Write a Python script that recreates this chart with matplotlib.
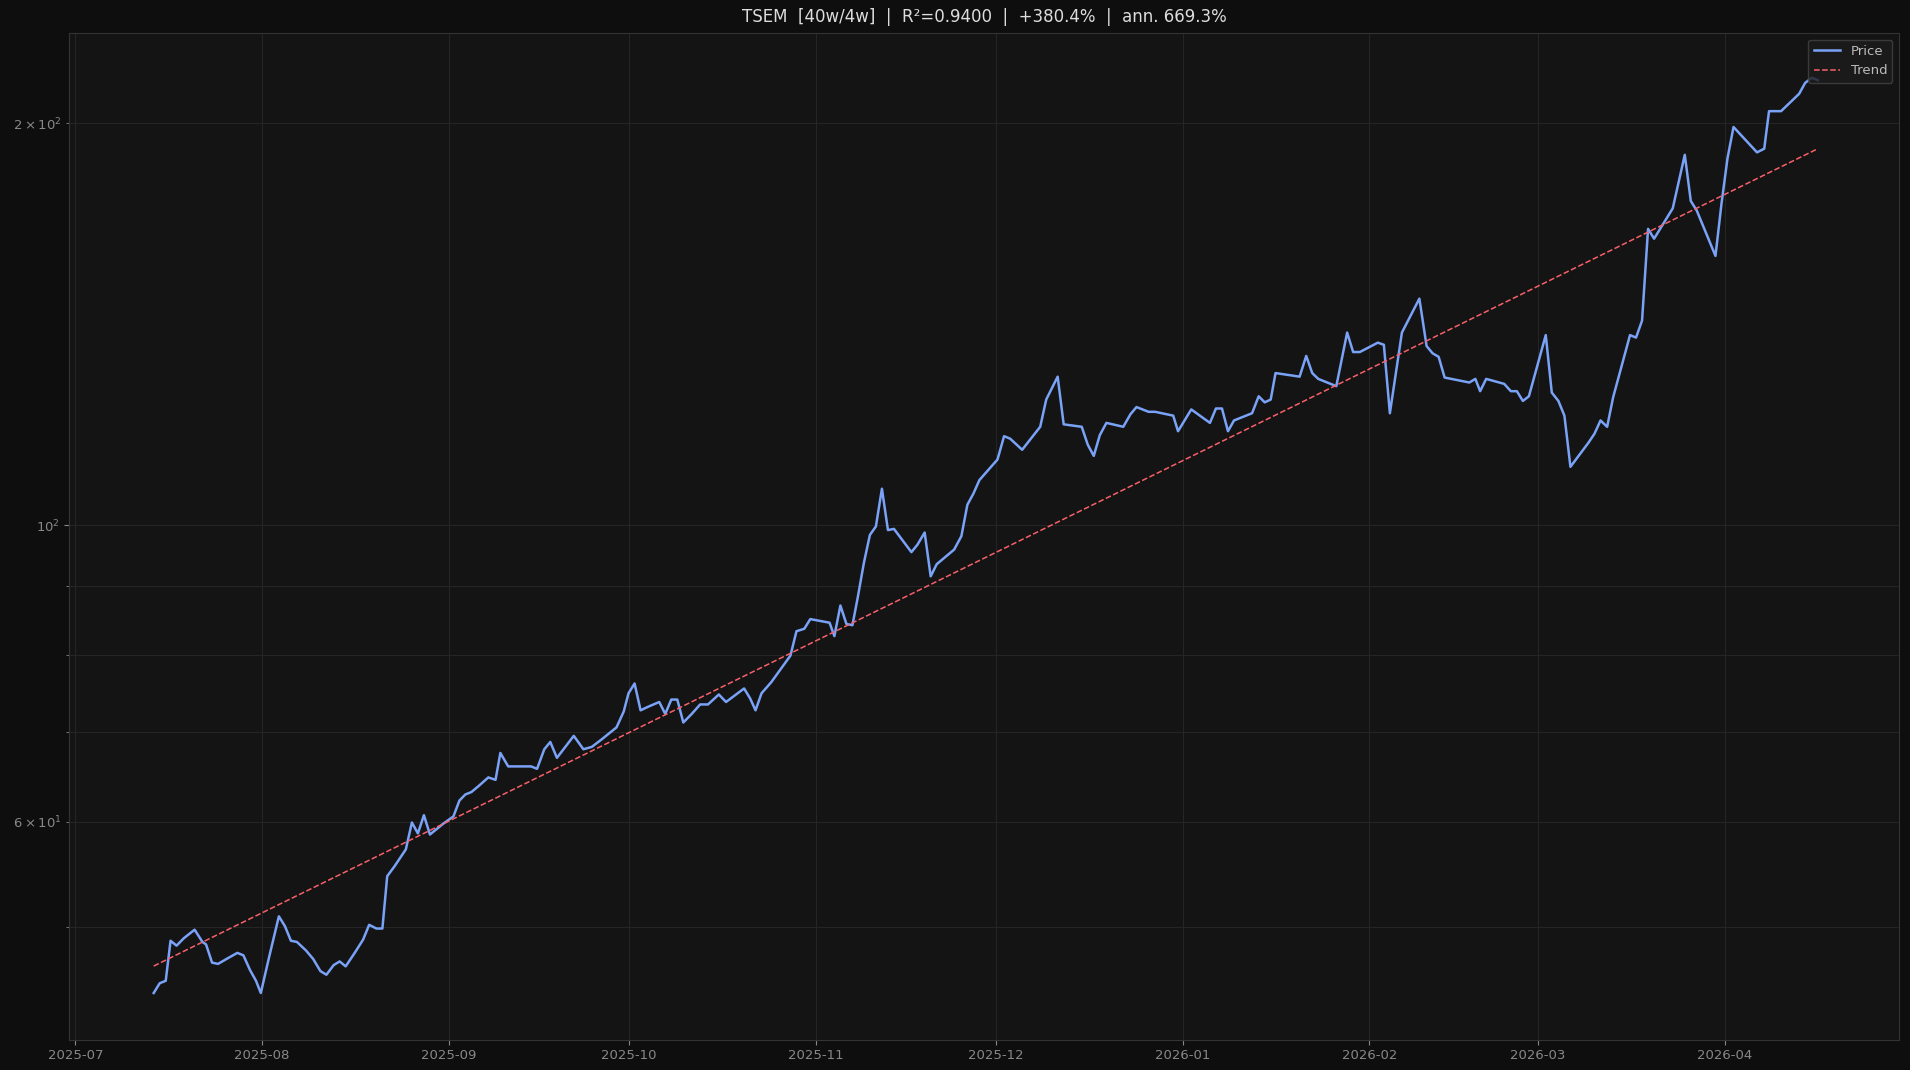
import numpy as np
import pandas as pd
import matplotlib
matplotlib.use("Agg")
import matplotlib.pyplot as plt
import matplotlib.dates as mdates

base_date = "2025-07-01"
# day offsets from base_date
days = [13,14,15,15.8,16.8,18,19.8,21.1,21.7,22.7,23.7,25.1,26.9,27.9,29,30,30.8,32.2,33.8,34.8,35.8,36.8,
38.3,39.5,40.7,41.7,42.9,43.9,44.9,46.4,47.8,48.8,50,51,51.8,53,54.9,55.9,56.9,57.9,58.9,59.9,61.1,62.8,
63.8,64.8,65.8,67,68.6,69.8,70.6,71.9,72.7,75.7,76.7,77.9,78.9,80,82.8,84.4,85.8,87.4,88.9,89.9,91.1,91.9,
92.9,93.9,95.1,97,98,99,100,101,102.4,103.8,105.1,106.9,108.1,111.1,112.1,113,114,115.6,117.2,118.8,119.8,
121.1,122.1,125.3,126.1,127.1,128.1,129.1,130,131,132,133,134,135,136,138.9,139.9,141.1,142.1,143.1,146,
147.2,148.2,149.2,150.2,153.2,154.3,155.3,157.3,160.3,161.3,163.2,164.2,167.2,168.2,169.2,170.2,171.3,
174.1,175.3,176.3,178.3,179.4,182.4,183.2,185.4,188.5,189.5,190.5,191.5,192.5,195.5,196.6,197.6,198.6,
199.4,203.4,204.5,205.5,206.5,209.5,211.3,212.3,213.4,216.4,217.4,218.4,220.4,223.3,224.5,225.5,226.5,
227.5,231.6,232.6,233.4,234.4,237.4,238.5,239.5,240.5,241.5,244.3,245.3,246.4,247.4,248.4,251.4,252.4,
253.4,254.5,255.5,258.3,259.3,260.3,261.3,262.3,265.4,267.4,268.4,269.4,272.5,273.5,274.5,275.5,279.4,
280.6,281.4,283.4,286.4,287.4,288.5,289.5]
prices = [44.64,45.40,45.59,48.85,48.44,49.06,49.79,48.75,48.54,47.04,46.94,47.34,47.84,47.64,46.45,45.59,44.64,
47.54,50.95,50.10,48.85,48.75,48.04,47.34,46.36,46.07,46.84,47.14,46.74,47.84,48.95,50.21,49.89,49.89,
54.60,55.53,57.19,59.90,58.78,60.66,58.67,59.17,59.77,60.53,62.21,62.87,63.13,63.79,64.74,64.47,67.53,
65.98,65.98,65.98,65.71,67.96,68.82,66.96,69.55,67.96,68.24,69.11,69.99,70.57,72.53,74.85,76.12,72.68,
73.11,73.73,72.23,74.04,74.04,71.17,72.23,73.42,73.42,74.69,73.73,75.47,74.19,72.68,74.85,76.28,78.06,
79.87,83.30,83.65,85.06,84.53,82.60,87.07,84.35,84.17,88.38,93.70,98.34,99.79,106.5,99.17,99.37,95.47,
96.70,98.75,91.57,93.50,95.89,98.13,103.6,105.6,108.1,112.0,116.6,116.1,113.9,118.5,124.2,129.2,119.0,
118.5,114.9,112.7,116.8,119.3,118.5,121.1,122.6,121.6,121.6,120.8,117.6,122.1,119.3,122.3,122.3,117.6,
119.8,121.3,124.9,123.6,124.2,130.0,129.2,133.9,130.0,128.7,127.1,139.4,134.8,134.8,137.0,136.5,121.3,
139.4,147.8,136.2,134.5,133.7,129.0,127.9,128.7,126.0,128.7,127.6,126.0,126.0,123.9,124.9,138.8,125.7,
123.9,120.8,110.6,115.3,117.1,119.8,118.5,124.7,138.8,138.2,142.3,166.7,163.9,172.7,189.4,174.9,172.0,
159.1,174.1,188.3,198.7,190.2,191.4,204.2,204.2,210.4,214.4,216.3,215.4]

n = min(len(days), len(prices))
d = np.array(days[:n])
p = np.array(prices[:n])
dates = pd.Timestamp(base_date) + pd.to_timedelta(d, unit="D")
coef = np.polyfit(d, np.log(p), 1)
trend = np.exp(np.polyval(coef, d))

W, H = 1568, 878
fig = plt.figure(figsize=(19.1, 10.7), dpi=100, facecolor="#0e0e0e")
ax = fig.add_axes([57/W, 1-853/H, (1559-57)/W, (853-27)/H])
ax.set_facecolor("#141414")
ax.plot(dates, p, color="#7aa2f7", lw=1.8, label="Price")
ax.plot(dates, trend, color="#f7606a", lw=1.1, ls="--", label="Trend")
ax.set_yscale("log")
ax.set_ylim(41.2, 233.7)
ax.set_xlim(pd.Timestamp("2025-06-30"), pd.Timestamp("2026-04-30"))
ax.xaxis.set_major_locator(mdates.MonthLocator())
ax.xaxis.set_major_formatter(mdates.DateFormatter("%Y-%m"))
ax.grid(True, which="both", color="#262626", lw=0.7)
ax.tick_params(colors="#888888", labelsize=9.5, which="both")
for s in ax.spines.values():
    s.set_color("#333333")
ax.set_title("TSEM  [40w/4w]  |  R²=0.9400  |  +380.4%  |  ann. 669.3%", color="#dddddd", fontsize=12, pad=8)
leg = ax.legend(loc="upper right", facecolor="#1c1c1c", edgecolor="#444444", fontsize=9.5)
for t in leg.get_texts():
    t.set_color("#bbbbbb")
fig.savefig("out.png", dpi=100, facecolor=fig.get_facecolor())
